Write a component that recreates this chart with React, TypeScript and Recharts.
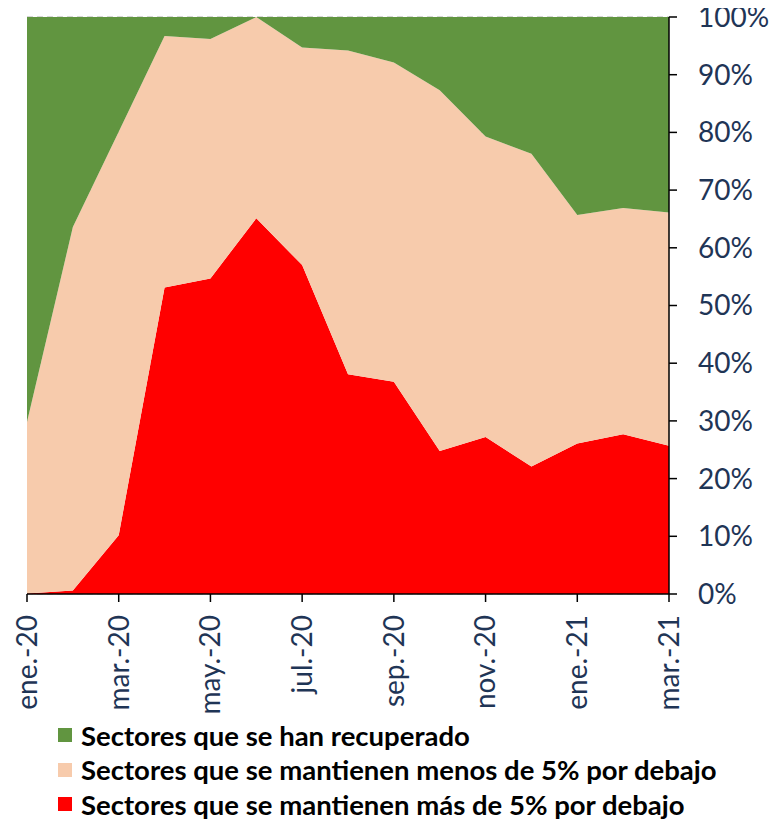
import React from "react";
import { AreaChart, Area, XAxis, YAxis, CartesianGrid, Legend } from "recharts";

// meses (eje X)
const meses = [
  "ene.-20", "feb.-20", "mar.-20", "abr.-20", "may.-20", "jun.-20", "jul.-20", "ago.-20",
  "sep.-20", "oct.-20", "nov.-20", "dic.-20", "ene.-21", "feb.-21", "mar.-21",
];

// % de sectores
const masDe5 = [0.1, 0.6, 10.2, 53.1, 54.7, 65.1, 57.0, 38.1, 36.8, 24.8, 27.2, 22.1, 26.1, 27.7, 25.7];
const menosDe5 = [29.7, 63.0, 69.9, 43.6, 41.5, 34.9, 37.7, 56.1, 55.3, 62.5, 52.1, 54.2, 39.6, 39.2, 40.4];
const recuperados = [70.2, 36.4, 19.9, 3.3, 3.8, 0, 5.3, 5.8, 7.9, 12.7, 20.7, 23.7, 34.3, 33.1, 33.9];

const yTicks = [0, 10, 20, 30, 40, 50, 60, 70, 80, 90, 100];

const nombres = {
  recuperados: "Sectores que se han recuperado",
  menosDe5: "Sectores que se mantienen menos de 5% por debajo",
  masDe5: "Sectores que se mantienen más de 5% por debajo",
};

const GREEN = "#619540";
const PEACH = "#f7cbac";
const RED = "#ff0000";
const TEXT = "#1f3556";
const FONT = "Lato, 'Noto Sans', sans-serif";

const data = meses.map((mes, i) => ({
  mes,
  masDe5: masDe5[i],
  menosDe5: menosDe5[i],
  recuperados: recuperados[i],
}));

const XTick = (props: any) => {
  const { x, y, payload } = props;
  return (
    <text
      x={x}
      y={y}
      transform={`rotate(-90 ${x} ${y})`}
      textAnchor="end"
      dy="0.35em"
      fill={TEXT}
      fontSize={28}
      fontFamily={FONT}
    >
      {payload.value}
    </text>
  );
};

const renderLegend = () => {
  const items = [
    { key: "recuperados", color: GREEN },
    { key: "menosDe5", color: PEACH },
    { key: "masDe5", color: RED },
  ];
  return (
    <div style={{ height: 100, paddingLeft: 50, boxSizing: "border-box", position: "relative", top: -3 }}>
      {items.map((it) => (
        <div
          key={it.key}
          style={{ height: 34.5, display: "flex", alignItems: "center" }}
        >
          <span
            style={{
              width: 14,
              height: 14,
              background: it.color,
              display: "inline-block",
              marginRight: 9,
            }}
          />
          <span
            style={{
              fontFamily: FONT,
              fontWeight: 700,
              fontSize: 27.5,
              color: "#000",
              whiteSpace: "nowrap",
            }}
          >
            {nombres[it.key as keyof typeof nombres]}
          </span>
        </div>
      ))}
    </div>
  );
};

export default function App() {
  // el svg empieza en el borde superior de la página para que "100%" no se corte
  return (
    <div style={{ width: 765, height: 821, marginTop: -8 }}>
      <AreaChart
        width={765}
        height={821}
        data={data}
        margin={{ top: 17, right: 0, left: 19, bottom: 0 }}
      >
        <CartesianGrid vertical={false} stroke="#c8c8c8" strokeDasharray="6 4" />
        <XAxis
          dataKey="mes"
          interval={1}
          height={127}
          tick={<XTick />}
          tickSize={8}
          tickMargin={13}
          axisLine={{ stroke: "#000", strokeWidth: 1.5 }}
          tickLine={{ stroke: "#000", strokeWidth: 1.5 }}
        />
        <YAxis
          orientation="right"
          domain={[0, 100]}
          ticks={yTicks}
          width={104}
          tickFormatter={(v: number) => `${v}%`}
          tickSize={8}
          tickMargin={21}
          axisLine={{ stroke: "#000", strokeWidth: 1.5 }}
          tickLine={{ stroke: "#000", strokeWidth: 1.5 }}
          tick={{ fill: TEXT, fontSize: 28, fontFamily: FONT }}
        />
        <Legend
          verticalAlign="bottom"
          align="left"
          content={renderLegend}
          wrapperStyle={{ left: 0, bottom: 0, width: 765, height: 100 }}
        />
        <Area
          type="linear"
          dataKey="masDe5"
          stackId="1"
          stroke="none"
          fill={RED}
          fillOpacity={1}
          isAnimationActive={false}
        />
        <Area
          type="linear"
          dataKey="menosDe5"
          stackId="1"
          stroke="none"
          fill={PEACH}
          fillOpacity={1}
          isAnimationActive={false}
        />
        <Area
          type="linear"
          dataKey="recuperados"
          stackId="1"
          stroke="none"
          fill={GREEN}
          fillOpacity={1}
          isAnimationActive={false}
        />
      </AreaChart>
    </div>
  );
}
